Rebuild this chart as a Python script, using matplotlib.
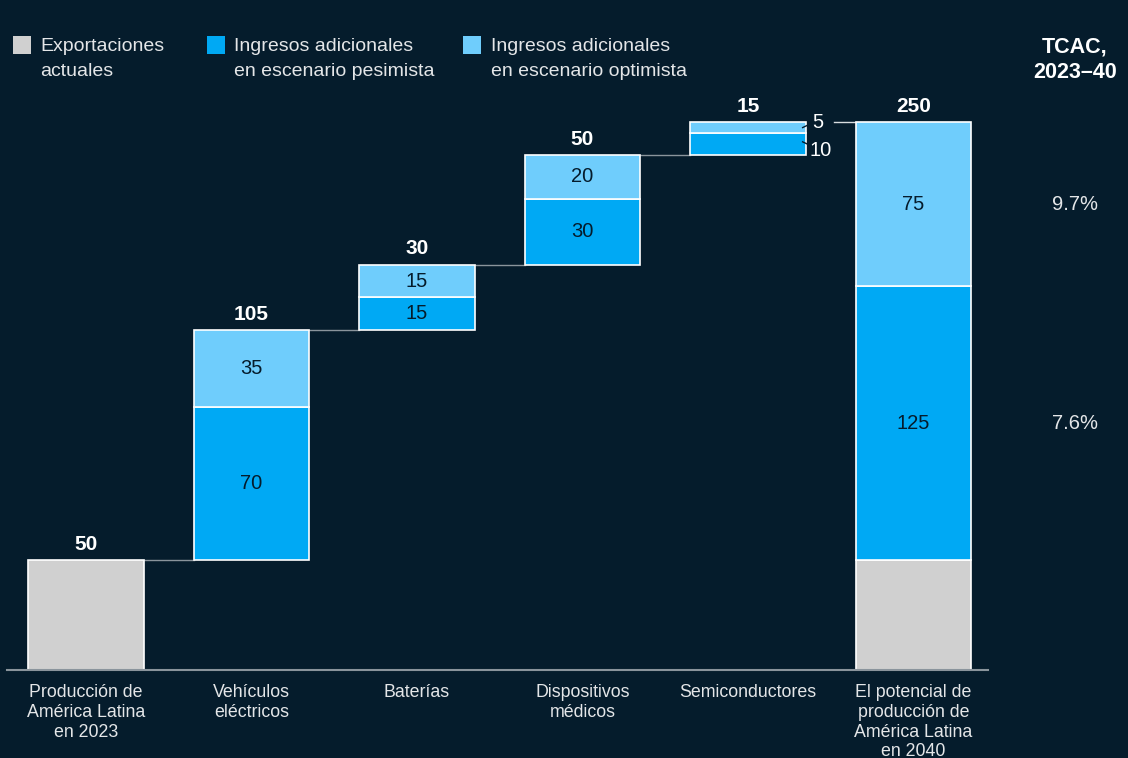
import matplotlib.pyplot as plt
from matplotlib.patches import Rectangle

# datos (miles de millones de USD)
categorias = ["Producción de\nAmérica Latina\nen 2023", "Vehículos\neléctricos", "Baterías",
              "Dispositivos\nmédicos", "Semiconductores",
              "El potencial de\nproducción de\nAmérica Latina\nen 2040"]
actuales = [50, 0, 0, 0, 0, 50]
pesimista = [0, 70, 15, 30, 10, 125]
optimista = [0, 35, 15, 20, 5, 75]
totales = [50, 105, 30, 50, 15, 250]
tcac_etiquetas = ["9.7%", "7.6%"]

FONDO = "#051c2c"
GRIS = "#d0d0d0"
AZUL = "#00a9f4"
CELESTE = "#6fcdfc"
TEXTO = "#ffffff"
TEXTO2 = "#e4e6e8"

plt.rcParams["font.family"] = ["Liberation Sans", "DejaVu Sans"]

fig = plt.figure(figsize=(11.28, 7.58), dpi=100, facecolor=FONDO)
ax = fig.add_axes([0, 0, 1, 1])
ax.set_facecolor(FONDO)
ax.set_xlim(-0.5196, 6.296)
ax.set_ylim(-40.1, 305.7)
ax.axis("off")

ancho = 0.70
base = 0
tops = []
for i in range(len(categorias)):
    if i == len(categorias) - 1:
        base = 0
    inicio = base
    segs = [(actuales[i], GRIS), (pesimista[i], AZUL), (optimista[i], CELESTE)]
    y = inicio
    for val, color in segs:
        if val:
            ax.add_patch(Rectangle((i - ancho / 2, y), ancho, val, facecolor=color,
                                   edgecolor="white", linewidth=1.2, zorder=3))
        y += val
    tops.append(y)
    ax.annotate(str(totales[i]), (i, y), xytext=(0, 11.5), textcoords="offset points",
                ha="center", va="center", fontsize=15, fontweight="bold", color=TEXTO)
    # etiquetas de segmentos
    if i in (1, 2, 3, 5):
        ax.text(i, inicio + actuales[i] + pesimista[i] / 2, str(pesimista[i]),
                ha="center", va="center", fontsize=14.5, color=FONDO, zorder=4)
        ax.text(i, inicio + actuales[i] + pesimista[i] + optimista[i] / 2, str(optimista[i]),
                ha="center", va="center", fontsize=14.5, color=FONDO, zorder=4)
    base = y

# etiquetas exteriores de semiconductores
i = 4
b = tops[3]
ax.plot([i + ancho / 2 - 0.02, i + 0.40], [b + pesimista[i] / 2 + 1, b + pesimista[i] / 2 - 1.5],
        color=FONDO, lw=1, zorder=5)
ax.plot([i + ancho / 2 - 0.02, i + 0.40], [b + pesimista[i] + optimista[i] / 2, b + pesimista[i] + optimista[i] / 2 + 2.5],
        color=FONDO, lw=1, zorder=5)
ax.text(i + 0.39, b + pesimista[i] + optimista[i], str(optimista[i]), ha="left", va="center",
        fontsize=14.5, color=TEXTO)
ax.text(i + 0.37, b + pesimista[i] / 2 - 3, str(pesimista[i]), ha="left", va="center",
        fontsize=14.5, color=TEXTO)

# conectores entre barras
for i in range(4):
    ax.plot([i + ancho / 2, i + 1 - ancho / 2], [tops[i], tops[i]], color="#8a949c", lw=1, zorder=2)
ax.plot([4.52, 5 - ancho / 2], [tops[4], tops[4]], color="#d8dde0", lw=1, zorder=2)

# línea base
ax.plot([-0.475, 5.45], [0, 0], color="#8a949c", lw=1.5, zorder=4)

for i, cat in enumerate(categorias):
    ax.text(i, -6.5, cat, ha="center", va="top", fontsize=12.8, color=TEXTO2, linespacing=1.2)

# columna TCAC
ax.text(5.976, 289, "TCAC,\n2023–40", ha="center", va="top", fontsize=15.5, fontweight="bold",
        color=TEXTO, linespacing=1.3)
ax.text(5.976, 50 + 125 + 75 / 2, tcac_etiquetas[0], ha="center", va="center", fontsize=14.5, color=TEXTO2)
ax.text(5.976, 50 + 125 / 2, tcac_etiquetas[1], ha="center", va="center", fontsize=14.5, color=TEXTO2)

# leyenda
W, H = 1128, 758
leyenda = [(GRIS, "Exportaciones\nactuales", 13, 40),
           (AZUL, "Ingresos adicionales\nen escenario pesimista", 207, 234),
           (CELESTE, "Ingresos adicionales\nen escenario optimista", 463, 491)]
for color, texto, xc, xt in leyenda:
    fig.patches.append(Rectangle((xc / W, 1 - 54 / H), 18 / W, 18 / H, transform=fig.transFigure,
                                 facecolor=color, edgecolor="none"))
    fig.text(xt / W, 1 - 38 / H, texto, ha="left", va="top", fontsize=14, color=TEXTO2,
             linespacing=1.62)

fig.savefig("out.png", dpi=100, facecolor=FONDO)
